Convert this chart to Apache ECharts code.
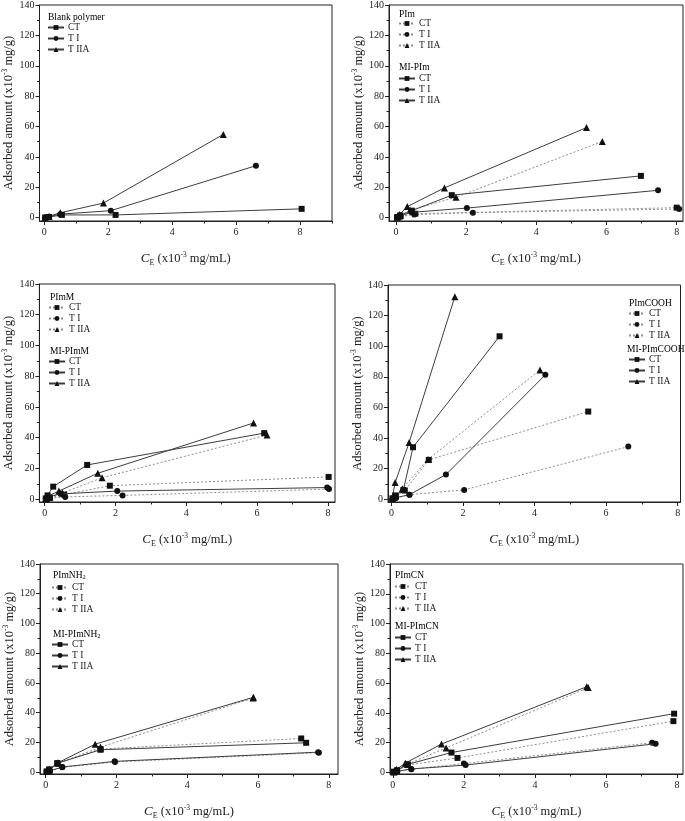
<!DOCTYPE html>
<html><head><meta charset="utf-8">
<script src="https://cdn.jsdelivr.net/npm/echarts@6/dist/echarts.min.js"></script>
<style>html,body{margin:0;padding:0;background:#fff}#c{width:685px;height:821px}</style>
</head><body><div id="c"></div>
<script>
// ---------------- DATA ----------------
const seriesLabels = ['CT', 'T I', 'T IIA'];
const xMajorTicks = [0, 2, 4, 6, 8];
const yMajorTicks = [0, 20, 40, 60, 80, 100, 120, 140];
const yMinorTicks = [10, 30, 50, 70, 90, 110, 130];

// Panel 1: Blank polymer
const blank_CT   = [[0.03,0.1],[0.15,0.4],[0.55,1.8],[2.23,1.8],[8.05,5.8]];
const blank_TI   = [[0.02,0.1],[0.1,0.5],[0.5,2.3],[2.08,4.6],[6.62,34.2]];
const blank_TIIA = [[0.02,0.2],[0.15,0.9],[0.5,3.2],[1.85,9.6],[5.6,54.8]];

// Panel 2: PIm (dotted) / MI-PIm (solid)
const pim_CT     = [[0.03,0.2],[0.12,0.9],[0.55,2.6],[8.0,6.6]];
const pim_TI     = [[0.04,0.2],[0.13,0.6],[0.52,2.0],[2.19,3.3],[8.07,5.7]];
const pim_TIIA   = [[0.04,0.4],[0.12,1.5],[0.4,5.0],[1.71,13.4],[5.88,50.2]];
const mipim_CT   = [[0.05,0.5],[0.12,1.5],[0.45,4.6],[1.59,14.8],[6.98,27.5]];
const mipim_TI   = [[0.04,0.3],[0.12,1.2],[0.45,3.5],[2.02,6.3],[7.47,18.0]];
const mipim_TIIA = [[0.03,0.5],[0.1,2.0],[0.32,7.3],[1.38,19.6],[5.43,59.3]];

// Panel 3: PImM (dotted) / MI-PImM (solid)
const pimm_CT     = [[0.05,0.3],[0.15,1.0],[0.55,3.0],[1.84,8.8],[8.02,14.5]];
const pimm_TI     = [[0.05,0.2],[0.15,0.6],[0.58,1.5],[2.2,2.5],[8.03,6.6]];
const pimm_TIIA   = [[0.05,0.3],[0.15,1.5],[0.5,4.0],[1.62,14.0],[6.28,41.8]];
const mipimm_CT   = [[0.03,0.5],[0.08,2.5],[0.24,8.2],[1.2,22.3],[6.2,43.0]];
const mipimm_TI   = [[0.03,0.3],[0.1,1.5],[0.45,3.5],[2.05,5.3],[7.98,7.6]];
const mipimm_TIIA = [[0.03,0.4],[0.1,2.0],[0.4,5.3],[1.5,16.9],[5.9,49.6]];

// Panel 4: PImCOOH (dotted) / MI-PImCOOH (solid)
const pimcooh_CT     = [[0.03,0.5],[0.12,2.0],[0.37,5.7],[1.04,25.7],[5.5,57.3]];
const pimcooh_TI     = [[0.03,0.3],[0.12,0.8],[0.5,3.0],[2.03,6.1],[6.62,34.4]];
const pimcooh_TIIA   = [[0.03,0.5],[0.1,2.0],[0.3,6.9],[1.02,26.0],[4.15,84.5]];
const mipimcooh_CT   = [[0.03,0.5],[0.1,2.5],[0.33,6.0],[0.6,34.0],[3.02,106.5]];
const mipimcooh_TI   = [[0.03,0.3],[0.12,1.0],[0.5,3.0],[1.52,16.1],[4.3,81.3]];
const mipimcooh_TIIA = [[0.02,1.0],[0.1,10.9],[0.49,37.0],[1.77,132.4]];

// Panel 5: PImNH2 (dotted) / MI-PImNH2 (solid)
const pimnh2_CT     = [[0.03,0.3],[0.1,1.5],[0.33,5.8],[1.55,15.5],[7.22,22.6]];
const pimnh2_TI     = [[0.03,0.2],[0.12,0.7],[0.47,3.2],[1.96,6.8],[7.72,13.0]];
const pimnh2_TIIA   = [[0.03,0.3],[0.1,1.5],[0.37,6.0],[1.55,16.8],[5.86,49.8]];
const mipimnh2_CT   = [[0.03,0.3],[0.1,1.8],[0.33,6.0],[1.55,15.0],[7.36,19.7]];
const mipimnh2_TI   = [[0.03,0.2],[0.12,0.8],[0.47,3.4],[1.95,7.2],[7.7,13.4]];
const mipimnh2_TIIA = [[0.03,0.3],[0.1,1.5],[0.35,6.3],[1.4,18.8],[5.87,50.3]];

// Panel 6: PImCN (dotted) / MI-PImCN (solid)
const pimcn_CT     = [[0.03,0.4],[0.12,1.2],[0.42,5.0],[1.82,9.8],[7.9,34.5]];
const pimcn_TI     = [[0.03,0.3],[0.12,0.8],[0.52,2.2],[2.0,6.0],[7.3,20.0]];
const pimcn_TIIA   = [[0.03,0.4],[0.1,1.8],[0.4,5.5],[1.5,16.5],[5.5,57.0]];
const mipimcn_CT   = [[0.03,0.5],[0.12,1.5],[0.42,5.5],[1.65,13.4],[7.92,39.5]];
const mipimcn_TI   = [[0.03,0.3],[0.12,0.8],[0.52,2.4],[2.05,5.0],[7.4,19.3]];
const mipimcn_TIIA = [[0.03,0.5],[0.1,2.0],[0.35,6.3],[1.37,19.1],[5.46,57.6]];

// ---------------- LAYOUT ----------------
const FONT = 'Liberation Serif';
const SOLID = {color:'#3c3c3c', type:'solid'};
const DOT = {color:'#8c8c8c', type:[2,2]};

const panels = [
  {grid:{left:39.5, top:5, width:292.5, height:216}, x:[-0.15,9], y:[-2.2,140], xMinor:[1,3,5,7,9],
   groups:[{title:'{t|Blank polymer}', tx:48, ty:12, lx:47, ly:22, line:SOLID, data:[blank_CT, blank_TI, blank_TIIA]}]},
  {grid:{left:389, top:5, width:294, height:216}, x:[-0.2,8.18], y:[-2.2,140], xMinor:[1,3,5,7],
   groups:[{title:'{t|PIm}', tx:399, ty:9, lx:398, ly:18, line:DOT, data:[pim_CT, pim_TI, pim_TIIA]},
           {title:'{t|MI-PIm}', tx:399, ty:62, lx:398, ly:73, line:SOLID, data:[mipim_CT, mipim_TI, mipim_TIIA]}]},
  {grid:{left:39, top:284, width:296, height:218}, x:[-0.15,8.2], y:[-1.8,140], xMinor:[1,3,5,7],
   groups:[{title:'{t|PImM}', tx:50, ty:292, lx:48, ly:302, line:DOT, data:[pimm_CT, pimm_TI, pimm_TIIA]},
           {title:'{t|MI-PImM}', tx:50, ty:346, lx:48, ly:356, line:SOLID, data:[mipimm_CT, mipimm_TI, mipimm_TIIA]}]},
  {grid:{left:388, top:285, width:292.5, height:217}, x:[-0.1,8.08], y:[-1.8,140], xMinor:[1,3,5,7],
   groups:[{title:'{t|PImCOOH}', tx:629, ty:298, lx:628, ly:308, line:DOT, data:[pimcooh_CT, pimcooh_TI, pimcooh_TIIA]},
           {title:'{t|MI-PImCOOH}', tx:627, ty:344, lx:628, ly:354, line:SOLID, data:[mipimcooh_CT, mipimcooh_TI, mipimcooh_TIIA]}]},
  {grid:{left:40, top:564, width:298, height:218}, x:[-0.16,8.26], y:[-1.3,140], xMinor:[1,3,5,7],
   groups:[{title:'{t|PImNH}{s|2}', tx:53, ty:570, lx:51, ly:582, line:DOT, data:[pimnh2_CT, pimnh2_TI, pimnh2_TIIA]},
           {title:'{t|MI-PImNH}{s|2}', tx:53, ty:629, lx:51, ly:639, line:SOLID, data:[mipimnh2_CT, mipimnh2_TI, mipimnh2_TIIA]}]},
  {grid:{left:390, top:564, width:293, height:217}, x:[-0.08,8.17], y:[-1.0,140], xMinor:[1,3,5,7],
   groups:[{title:'{t|PImCN}', tx:395, ty:570, lx:394, ly:581, line:DOT, data:[pimcn_CT, pimcn_TI, pimcn_TIIA]},
           {title:'{t|MI-PImCN}', tx:395, ty:621, lx:394, ly:632, line:SOLID, data:[mipimcn_CT, mipimcn_TI, mipimcn_TIIA]}]}
];

const symbols = ['rect', 'circle', 'triangle'];
const symbolSizes = [6, 6, 7];

const xName = '{i|C}{e|E}{n| (x10}{s|-3}{n| mg/mL)}';
const yName = '{n|Adsorbed amount (x10}{s|-3}{n| mg/g)}';
const nameRich = {
  i:{fontFamily:FONT, fontStyle:'italic', fontSize:13, lineHeight:16, color:'#222'},
  e:{fontFamily:FONT, fontSize:8, lineHeight:9, verticalAlign:'bottom', color:'#222'},
  n:{fontFamily:FONT, fontSize:12.5, lineHeight:16, color:'#222'},
  s:{fontFamily:FONT, fontSize:7.5, lineHeight:9, verticalAlign:'top', color:'#222'}
};
const titleRich = {
  t:{fontFamily:FONT, fontSize:9.5, lineHeight:12, color:'#222'},
  s:{fontFamily:FONT, fontSize:6.5, lineHeight:7, verticalAlign:'bottom', color:'#222'}
};

const option = {animation:false, grid:[], xAxis:[], yAxis:[], series:[], legend:[], graphic:[]};
const axisColor = '#222';
panels.forEach((p, i) => {
  option.grid.push(Object.assign({show:true, borderColor:axisColor, borderWidth:1, backgroundColor:'transparent'}, p.grid));
  const xMain = option.xAxis.length;
  option.xAxis.push({type:'value', gridIndex:i, min:p.x[0], max:p.x[1], position:'bottom',
    axisLine:{show:true, onZero:false, lineStyle:{color:axisColor, width:1}},
    axisTick:{show:true, length:4, customValues:xMajorTicks, lineStyle:{color:axisColor}},
    axisLabel:{show:true, customValues:xMajorTicks, margin:6, fontFamily:FONT, fontSize:10, color:axisColor},
    splitLine:{show:false},
    name:xName, nameLocation:'middle', nameGap:30, nameTextStyle:{rich:nameRich}});
  option.xAxis.push({type:'value', gridIndex:i, min:p.x[0], max:p.x[1], position:'bottom',
    axisLine:{show:false, onZero:false}, axisTick:{show:true, length:2.5, customValues:p.xMinor, lineStyle:{color:axisColor}},
    axisLabel:{show:false}, splitLine:{show:false}});
  const yMain = option.yAxis.length;
  option.yAxis.push({type:'value', gridIndex:i, min:p.y[0], max:p.y[1], position:'left',
    axisLine:{show:true, onZero:false, lineStyle:{color:axisColor, width:1}},
    axisTick:{show:true, length:4, customValues:yMajorTicks, lineStyle:{color:axisColor}},
    axisLabel:{show:true, customValues:yMajorTicks, margin:5, fontFamily:FONT, fontSize:10, color:axisColor},
    splitLine:{show:false},
    name:yName, nameLocation:'middle', nameGap:20, nameRotate:90, nameTextStyle:{rich:nameRich}});
  option.yAxis.push({type:'value', gridIndex:i, min:p.y[0], max:p.y[1], position:'left',
    axisLine:{show:false, onZero:false}, axisTick:{show:true, length:2.5, customValues:yMinorTicks, lineStyle:{color:axisColor}},
    axisLabel:{show:false}, splitLine:{show:false}});

  p.groups.forEach((g, gi) => {
    const names = [];
    g.data.forEach((d, k) => {
      const nm = 'p' + i + 'g' + gi + '|' + seriesLabels[k];
      names.push(nm);
      option.series.push({type:'line', name:nm, xAxisIndex:xMain, yAxisIndex:yMain, data:d,
        symbol:symbols[k], symbolSize:symbolSizes[k], showSymbol:true,
        lineStyle:{color:g.line.color, width:1, type:g.line.type},
        itemStyle:{color:'#111', borderWidth:0},
        emphasis:{disabled:true}, z: g.line === SOLID ? 3 : 2});
    });
    option.legend.push({show:true, orient:'vertical', left:g.lx, top:g.ly, itemWidth:16, itemHeight:6, itemGap:0,
      padding:0, selectedMode:false, data:names,
      formatter:(n) => n.split('|')[1],
      textStyle:{fontFamily:FONT, fontSize:9.5, color:'#222', lineHeight:11, padding:[0,0,0,-1]}});
    option.graphic.push({type:'text', left:g.tx, top:g.ty, style:{text:g.title, rich:titleRich}});
  });
});

const chart = echarts.init(document.getElementById('c'), null, {renderer:'canvas'});
chart.setOption(option);
</script>
</body></html>
